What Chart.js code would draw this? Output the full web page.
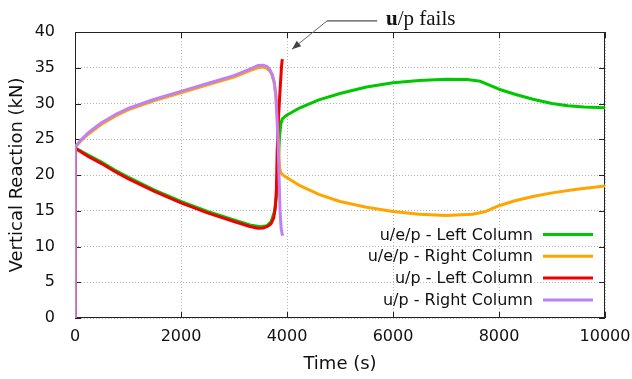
<!DOCTYPE html>
<html>
<head>
<meta charset="utf-8">
<script src="https://cdn.jsdelivr.net/npm/chart.js@4"></script>
<style>
  html, body { margin: 0; padding: 0; background: #fff; }
  #wrap { width: 632px; height: 379px; }
</style>
</head>
<body>
<div id="wrap"><canvas id="reaction"></canvas></div>
<script>
// u/e/p model, left column
const uepLeftTime = [0, 5, 100, 250, 500, 750, 1000, 1500, 2000, 2500, 3000, 3300, 3500, 3620, 3700, 3760, 3800, 3830, 3860, 3890, 3905, 4000, 4245, 4600, 5000, 5500, 6000, 6500, 7000, 7400, 7650, 8000, 8300, 8640, 9000, 9300, 9600, 10000];
const uepLeftKN = [0, 23.8, 23.4, 22.8, 21.8, 20.7, 19.7, 17.9, 16.3, 14.9, 13.7, 13.0, 12.75, 12.9, 13.5, 14.8, 17.0, 21.0, 25.5, 27.5, 27.8, 28.4, 29.4, 30.5, 31.4, 32.3, 32.9, 33.2, 33.4, 33.35, 33.1, 32.0, 31.3, 30.6, 30.0, 29.7, 29.5, 29.4];

// u/e/p model, right column
const uepRightTime = [0, 5, 100, 250, 500, 750, 1000, 1500, 2000, 2500, 3000, 3300, 3450, 3550, 3620, 3680, 3720, 3760, 3790, 3815, 3840, 3860, 3880, 3920, 4245, 4600, 5000, 5500, 6000, 6500, 7000, 7500, 7750, 8000, 8300, 8640, 9000, 9470, 10000];
const uepRightKN = [0, 23.9, 24.7, 25.7, 27.1, 28.2, 29.1, 30.4, 31.5, 32.6, 33.7, 34.6, 35.0, 35.1, 34.9, 34.5, 33.9, 32.8, 31.2, 28.5, 24.0, 21.0, 20.4, 20.0, 18.5, 17.3, 16.3, 15.5, 14.9, 14.5, 14.35, 14.5, 14.9, 15.7, 16.4, 17.0, 17.5, 18.0, 18.45];

// u/p model, left column (run stops when it fails)
const upLeftTime = [0, 5, 100, 250, 500, 750, 1000, 1500, 2000, 2500, 3000, 3300, 3450, 3560, 3650, 3700, 3750, 3780, 3800, 3815, 3840, 3870, 3895, 3910];
const upLeftKN = [0, 23.7, 23.3, 22.6, 21.6, 20.5, 19.5, 17.7, 16.1, 14.7, 13.5, 12.8, 12.55, 12.6, 12.9, 13.2, 14.0, 15.5, 18.0, 23.5, 28.0, 32.0, 35.0, 36.2];

// u/p model, right column
const upRightTime = [0, 5, 100, 250, 500, 750, 1000, 1500, 2000, 2500, 3000, 3300, 3450, 3550, 3620, 3680, 3720, 3760, 3790, 3815, 3836, 3868, 3890, 3915];
const upRightKN = [0, 24.0, 24.8, 25.9, 27.3, 28.4, 29.3, 30.6, 31.7, 32.8, 33.9, 34.8, 35.3, 35.35, 35.2, 34.7, 34.1, 33.0, 31.0, 27.5, 23.5, 15.1, 12.5, 11.5];

const seriesNames = ['u/e/p - Left Column', 'u/e/p - Right Column', 'u/p - Left Column', 'u/p - Right Column'];
const seriesColors = ['#00c800', '#ffa500', '#f00000', '#c080f0'];

const xTicks = [0, 2000, 4000, 6000, 8000, 10000];
const yTicks = [0, 5, 10, 15, 20, 25, 30, 35, 40];

function toPoints(times, values) {
  return times.map((t, i) => ({ x: t, y: values[i] }));
}

const seriesData = [
  toPoints(uepLeftTime, uepLeftKN),
  toPoints(uepRightTime, uepRightKN),
  toPoints(upLeftTime, upLeftKN),
  toPoints(upRightTime, upRightKN),
];

// gnuplot draws in legend order, so later series sit on top
const drawOrder = [4, 3, 2, 1];

const framePlugin = {
  id: 'frame',
  beforeDatasetsDraw(chart) {
    const { ctx, chartArea: a, scales } = chart;
    ctx.save();
    ctx.strokeStyle = '#222';
    ctx.lineWidth = 1;
    ctx.strokeRect(a.left + 0.5, a.top + 0.5, a.right - a.left - 1, a.bottom - a.top - 1);
    ctx.beginPath();
    xTicks.forEach((t) => {
      const px = Math.round(scales.x.getPixelForValue(t)) + 0.5;
      ctx.moveTo(px, a.bottom);
      ctx.lineTo(px, a.bottom - 6);
      ctx.moveTo(px, a.top);
      ctx.lineTo(px, a.top + 6);
    });
    yTicks.forEach((t) => {
      const py = Math.round(scales.y.getPixelForValue(t)) + 0.5;
      ctx.moveTo(a.left, py);
      ctx.lineTo(a.left + 6, py);
      ctx.moveTo(a.right, py);
      ctx.lineTo(a.right - 6, py);
    });
    ctx.stroke();
    ctx.restore();
  },
  afterDraw(chart) {
    const { ctx, scales } = chart;
    ctx.save();

    // key, bottom right inside the plot
    ctx.font = '16px "DejaVu Sans"';
    ctx.textAlign = 'right';
    ctx.textBaseline = 'middle';
    seriesNames.forEach((name, i) => {
      const y = 234.5 + i * 21.8;
      ctx.fillStyle = '#111';
      ctx.fillText(name, 533, y + 1);
      ctx.strokeStyle = seriesColors[i];
      ctx.lineWidth = 3;
      ctx.beginPath();
      ctx.moveTo(543, y);
      ctx.lineTo(593, y);
      ctx.stroke();
    });

    // "u/p fails" callout
    const tipX = scales.x.getPixelForValue(4094);
    const tipY = scales.y.getPixelForValue(37.6);
    const elbowX = scales.x.getPixelForValue(4755);
    const elbowY = scales.y.getPixelForValue(41.55);
    const endX = scales.x.getPixelForValue(5700);

    ctx.strokeStyle = '#222';
    ctx.lineWidth = 1;
    ctx.beginPath();
    ctx.moveTo(endX, elbowY);
    ctx.lineTo(elbowX, elbowY);
    ctx.stroke();

    ctx.strokeStyle = '#666';
    ctx.beginPath();
    ctx.moveTo(elbowX, elbowY);
    ctx.lineTo(tipX, tipY);
    ctx.stroke();

    const ang = Math.atan2(tipY - elbowY, tipX - elbowX);
    const len = 9, half = 3.5;
    const bx = tipX - len * Math.cos(ang);
    const by = tipY - len * Math.sin(ang);
    ctx.fillStyle = '#444';
    ctx.beginPath();
    ctx.moveTo(tipX, tipY);
    ctx.lineTo(bx + half * Math.sin(ang), by - half * Math.cos(ang));
    ctx.lineTo(bx - half * Math.sin(ang), by + half * Math.cos(ang));
    ctx.closePath();
    ctx.fill();

    const textX = scales.x.getPixelForValue(5868);
    const textY = scales.y.getPixelForValue(41.0);
    ctx.textAlign = 'left';
    ctx.textBaseline = 'alphabetic';
    ctx.fillStyle = '#111';
    ctx.font = 'bold 21px "Liberation Serif"';
    ctx.fillText('u', textX, textY);
    const uw = ctx.measureText('u').width;
    ctx.font = '21px "Liberation Serif"';
    ctx.fillText('/p fails', textX + uw, textY);

    ctx.restore();
  },
};

new Chart(document.getElementById('reaction'), {
  type: 'line',
  data: {
    datasets: seriesNames.map((name, i) => ({
      label: name,
      data: seriesData[i],
      borderColor: seriesColors[i],
      backgroundColor: seriesColors[i],
      borderWidth: 3,
      pointRadius: 0,
      fill: false,
      tension: 0,
      borderJoinStyle: 'round',
      order: drawOrder[i],
    })),
  },
  options: {
    responsive: true,
    maintainAspectRatio: false,
    animation: false,
    events: [],
    layout: { padding: { top: 32, right: 27, left: 0, bottom: 0 } },
    plugins: {
      legend: { display: false },
      tooltip: { enabled: false },
    },
    scales: {
      x: {
        type: 'linear',
        min: 0,
        max: 10000,
        afterFit: (scale) => {
          scale.height = 61;
          // the "10000" label may hang past the frame; keep the plot width fixed
          scale.paddingLeft = 0;
          scale.paddingRight = 0;
        },
        afterBuildTicks: (scale) => { scale.ticks = xTicks.map((v) => ({ value: v })); },
        grid: { color: '#b4b4b4', lineWidth: 1, drawTicks: false },
        border: { display: false, dash: [1, 2] },
        ticks: {
          padding: 9,
          maxRotation: 0,
          color: '#111',
          font: { family: 'DejaVu Sans', size: 16 },
          callback: (v) => String(v),
        },
        title: {
          display: true,
          text: 'Time (s)',
          color: '#111',
          font: { family: 'DejaVu Sans', size: 18 },
          padding: { top: 0, bottom: 4 },
        },
      },
      y: {
        type: 'linear',
        min: 0,
        max: 40,
        afterFit: (scale) => { scale.width = 75; },
        afterBuildTicks: (scale) => { scale.ticks = yTicks.map((v) => ({ value: v })); },
        grid: { color: '#b4b4b4', lineWidth: 1, drawTicks: false },
        border: { display: false, dash: [1, 2] },
        ticks: {
          padding: 20,
          color: '#111',
          font: { family: 'DejaVu Sans', size: 16 },
          callback: (v) => String(v),
        },
        title: {
          display: true,
          text: 'Vertical Reaction (kN)',
          color: '#111',
          font: { family: 'DejaVu Sans', size: 18 },
          padding: { top: 7, bottom: 0 },
        },
      },
    },
  },
  plugins: [framePlugin],
});
</script>
</body>
</html>
